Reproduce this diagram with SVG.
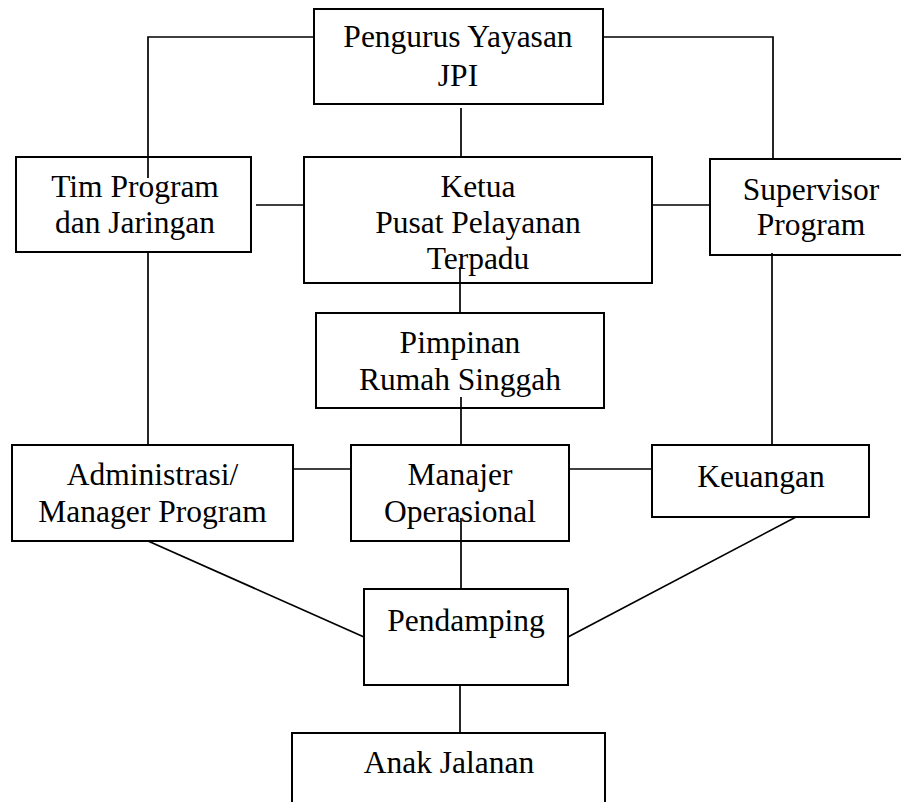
<svg xmlns="http://www.w3.org/2000/svg" width="901" height="802" viewBox="0 0 901 802">
<style>
.box{fill:#fff;stroke:#000;stroke-width:2}
.ln{fill:none;stroke:#000;stroke-width:1.7}
text{font-family:"Liberation Serif","Times New Roman",serif;font-size:31.5px;fill:#000;text-anchor:middle}
</style>
<rect width="901" height="802" fill="#fff"/>
<g id="nodes-boxes">
<g id="pengurus"><rect class="box" x="314" y="9" width="289" height="95"/></g>
<g id="tim"><rect class="box" x="16" y="157" width="235" height="95"/></g>
<g id="ketua"><rect class="box" x="304" y="157" width="348" height="126"/></g>
<g id="supervisor"><rect class="box" x="710" y="159" width="210" height="96"/></g>
<g id="pimpinan"><rect class="box" x="316" y="313" width="288" height="95"/></g>
<g id="admin"><rect class="box" x="12" y="445" width="281" height="96"/></g>
<g id="manajer"><rect class="box" x="351" y="445" width="218" height="96"/></g>
<g id="keuangan"><rect class="box" x="652" y="445" width="217" height="72"/></g>
<g id="pendamping"><rect class="box" x="364" y="589" width="204" height="96"/></g>
<g id="anak"><rect class="box" x="292" y="733" width="313" height="90"/></g>
</g>
<g id="connectors">
<polyline class="ln" points="314,37 148,37 148,178"/>
<polyline class="ln" points="603,37 773,37 773,159"/>
<line class="ln" x1="461" y1="108" x2="461" y2="157"/>
<line class="ln" x1="256" y1="205" x2="304" y2="205"/>
<line class="ln" x1="652" y1="205" x2="710" y2="205"/>
<line class="ln" x1="460" y1="267" x2="460" y2="313"/>
<line class="ln" x1="148" y1="252" x2="148" y2="445"/>
<line class="ln" x1="772" y1="253" x2="772" y2="445"/>
<line class="ln" x1="461" y1="397" x2="461" y2="445"/>
<line class="ln" x1="293" y1="469" x2="351" y2="469"/>
<line class="ln" x1="569" y1="469" x2="652" y2="469"/>
<line class="ln" x1="461" y1="518" x2="461" y2="589"/>
<line class="ln" x1="148" y1="541" x2="364" y2="637"/>
<line class="ln" x1="796" y1="517" x2="568" y2="637"/>
<line class="ln" x1="460" y1="685" x2="460" y2="733"/>
</g>
<g id="labels">
<text x="458" y="47">Pengurus Yayasan</text>
<text x="458" y="86">JPI</text>
<text x="135" y="197">Tim Program</text>
<text x="135" y="233">dan Jaringan</text>
<text x="478" y="197">Ketua</text>
<text x="478" y="233">Pusat Pelayanan</text>
<text x="478" y="269">Terpadu</text>
<text x="811" y="200">Supervisor</text>
<text x="811" y="235">Program</text>
<text x="460" y="353">Pimpinan</text>
<text x="460" y="390">Rumah Singgah</text>
<text x="152.5" y="485">Administrasi/</text>
<text x="152.5" y="522">Manager Program</text>
<text x="460" y="485">Manajer</text>
<text x="460" y="522">Operasional</text>
<text x="761" y="487">Keuangan</text>
<text x="466" y="631">Pendamping</text>
<text x="449" y="773">Anak Jalanan</text>
</g>
</svg>
